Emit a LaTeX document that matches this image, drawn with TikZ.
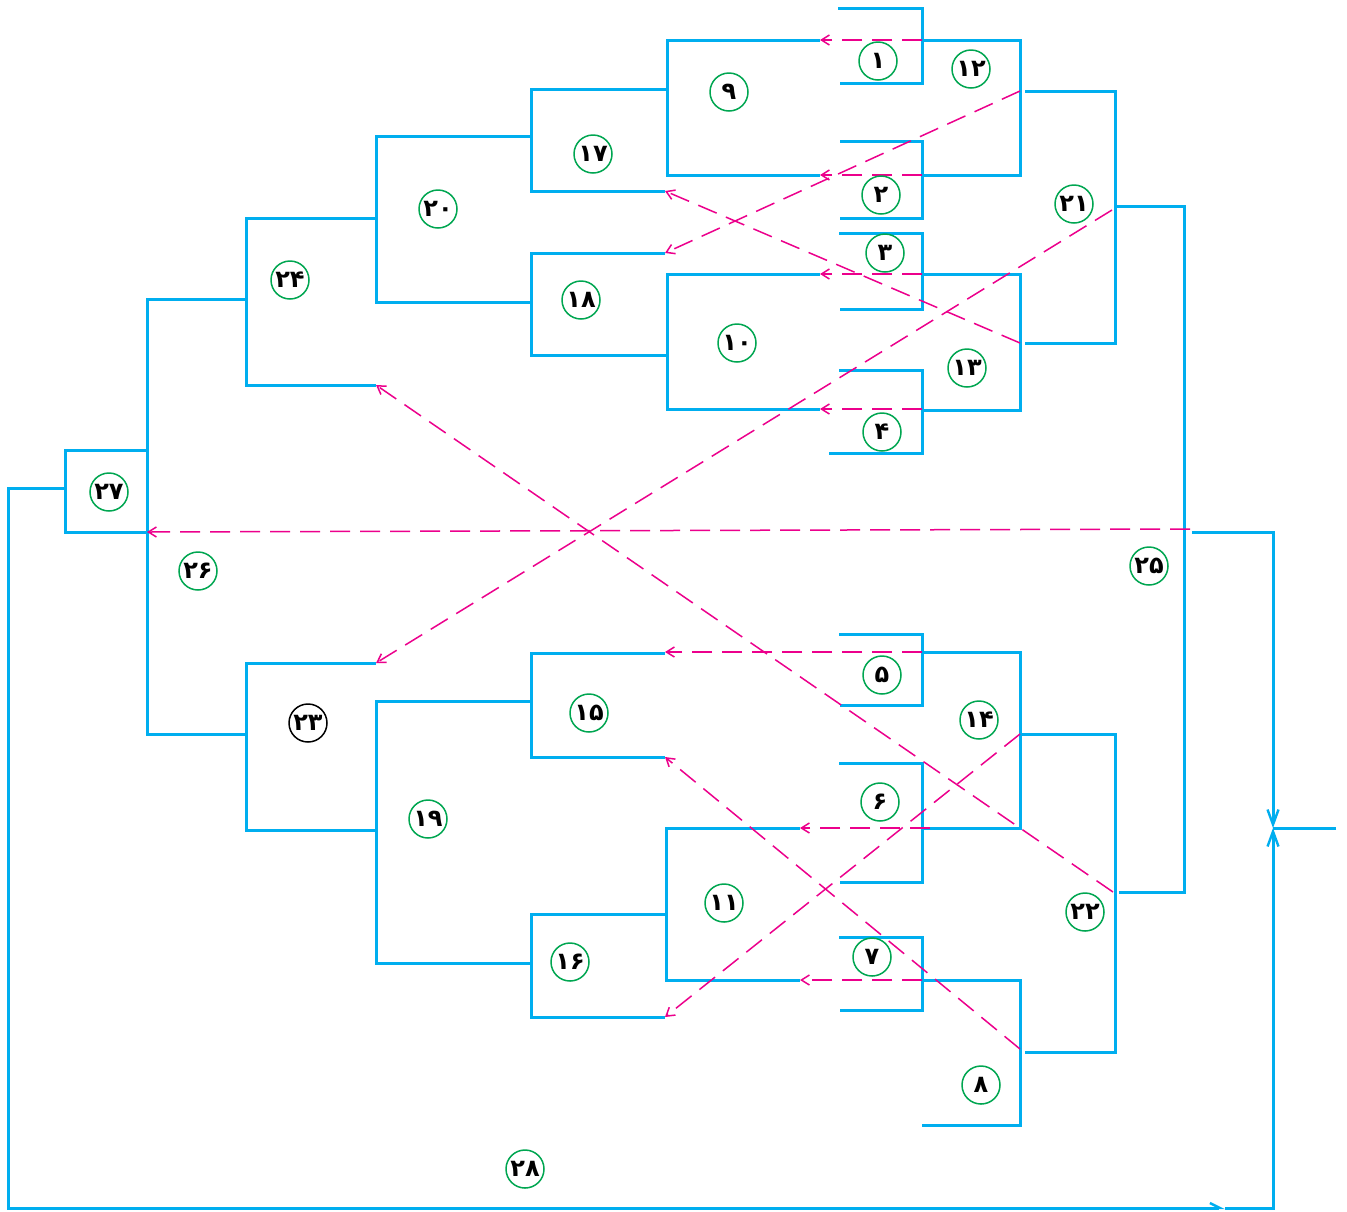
\documentclass[tikz,border=0pt]{standalone}
\usepackage{fontspec}
\newfontfamily\fa[Script=Arabic]{DejaVu Sans}
\usetikzlibrary{arrows.meta}
\definecolor{cy}{HTML}{00AEEF}
\definecolor{mg}{HTML}{EC008C}
\definecolor{gr}{HTML}{00A651}
\begin{document}
\begin{tikzpicture}[x=0.5pt,y=-0.5pt,
  br/.style={draw=cy,line width=1.5pt,line join=miter},
  dl/.style={draw=mg,line width=0.75pt,dash pattern=on 10pt off 5pt,-{Straight Barb[length=4pt,width=5pt]}},
  ba/.style={draw=cy,line width=1.5pt,-{Straight Barb[length=7.5pt,width=5.5pt,line width=1.2pt]}},
  lab/.style={circle,draw=gr,line width=0.75pt,minimum size=19pt,inner sep=0pt,font=\fa\bfseries\fontsize{12}{14}\selectfont},
  labk/.style={lab,draw=black}
]
\useasboundingbox (0,0) rectangle (1347,1211);
\fill[white] (0,0) rectangle (1347,1211);

% ---- first round brackets
\draw[br] (838,8) -| (922,83) -- (840,83);
\draw[br] (840,141) -| (922,218) -- (840,218);
\draw[br] (839,233) -| (922,309) -- (840,309);
\draw[br] (839,370) -| (922,453) -- (829,453);
\draw[br] (839,634) -| (922,705) -- (840,705);
\draw[br] (839,763) -| (922,882) -- (840,882);
\draw[br] (839,937) -| (922,1010) -- (840,1010);
\draw[br] (922,980) -| (1020,1125) -- (922,1125);
% ---- second level
\draw[br] (820,40) -- (667,40) |- (820,175);
\draw[br] (820,274) -- (667,274) |- (820,409);
\draw[br] (800,828) -- (666,828) |- (800,980);
\draw[br] (922,40) -| (1020,175) -- (922,175);
\draw[br] (922,274) -| (1020,410) -- (922,410);
\draw[br] (922,652) -| (1020,828) -- (922,828);
% ---- third level
\draw[br] (665,653) -- (531,653) |- (665,757);
\draw[br] (666,914) -- (531,914) |- (665,1017);
\draw[br] (667,89) -- (531,89) |- (665,191);
\draw[br] (665,253) -- (531,253) |- (667,355);
\draw[br] (1025,91) -| (1115,343) -- (1025,343);
\draw[br] (1020,734) -| (1115,1052) -- (1025,1052);
% ---- fourth level
\draw[br] (531,701) -- (376,701) |- (531,963);
\draw[br] (531,136) -- (376,136) |- (531,302);
\draw[br] (1115,206) -| (1184,892) -- (1119,892);
% ---- fifth level
\draw[br] (376,218) -- (246,218) |- (376,385);
\draw[br] (376,663) -- (246,663) |- (376,830);
\draw[br] (246,299) -- (147,299) |- (248,734);
\draw[br] (147,450) -- (65,450) |- (147,532);

% ---- loop and final
\coordinate (h) at (1225,1208);
\coordinate (m) at (1273,828);
\coordinate (in) at (1336,828);
\draw[br,-{Straight Barb[harpoon,length=5pt,width=5pt,line width=1.2pt]}] (65,488) -- (8,488) |- (h);
\draw[ba] (h) -| (m);
\draw[ba] (1192,532) -| (m);
\draw[br] (in) -- (m);

% ---- dashed moves
\draw[dl] (922,40) -- (820,40);
\draw[dl] (922,175) -- (820,175);
\draw[dl] (922,274) -- (820,274);
\draw[dl] (922,409) -- (820,409);
\draw[dl] (922,652) -- (665,652);
\draw[dl] (930,828) -- (800,828);
\draw[dl] (922,980) -- (800,980);
\draw[dl] (1020,91) -- (665,253);
\draw[dl] (1020,343) -- (665,191);
\draw[dl] (1020,734) -- (665,1017);
\draw[dl] (1020,1049) -- (665,757);
\draw[dl] (1112,210) -- (376,663);
\draw[dl] (1113,892) -- (376,385);
\draw[dl] (1190,529) -- (147,532);

% ---- labels
\node[lab] (n1) at (878,61) {۱};
\node[lab] (n2) at (881,195) {۲};
\node[lab] (n3) at (885,253) {۳};
\node[lab] (n4) at (882,432) {۴};
\node[lab] (n5) at (882,675) {۵};
\node[lab] (n6) at (880,802) {۶};
\node[lab] (n7) at (872,957) {۷};
\node[lab] (n8) at (981,1085) {۸};
\node[lab] (n9) at (729,92) {۹};
\node[lab] (n10) at (737,343) {۱۰};
\node[lab] (n11) at (724,903) {۱۱};
\node[lab] (n12) at (971,69) {۱۲};
\node[lab] (n13) at (967,368) {۱۳};
\node[lab] (n14) at (979,720) {۱۴};
\node[lab] (n15) at (589,713) {۱۵};
\node[lab] (n16) at (570,962) {۱۶};
\node[lab] (n17) at (593,154) {۱۷};
\node[lab] (n18) at (581,300) {۱۸};
\node[lab] (n19) at (428,819) {۱۹};
\node[lab] (n20) at (438,209) {۲۰};
\node[lab] (n21) at (1074,204) {۲۱};
\node[lab] (n22) at (1085,912) {۲۲};
\node[labk] (n23) at (308,723) {۲۳};
\node[lab] (n24) at (290,280) {۲۴};
\node[lab] (n25) at (1149,566) {۲۵};
\node[lab] (n26) at (198,571) {۲۶};
\node[lab] (n27) at (109,492) {۲۷};
\node[lab] (n28) at (525,1169) {۲۸};
\end{tikzpicture}
\end{document}
